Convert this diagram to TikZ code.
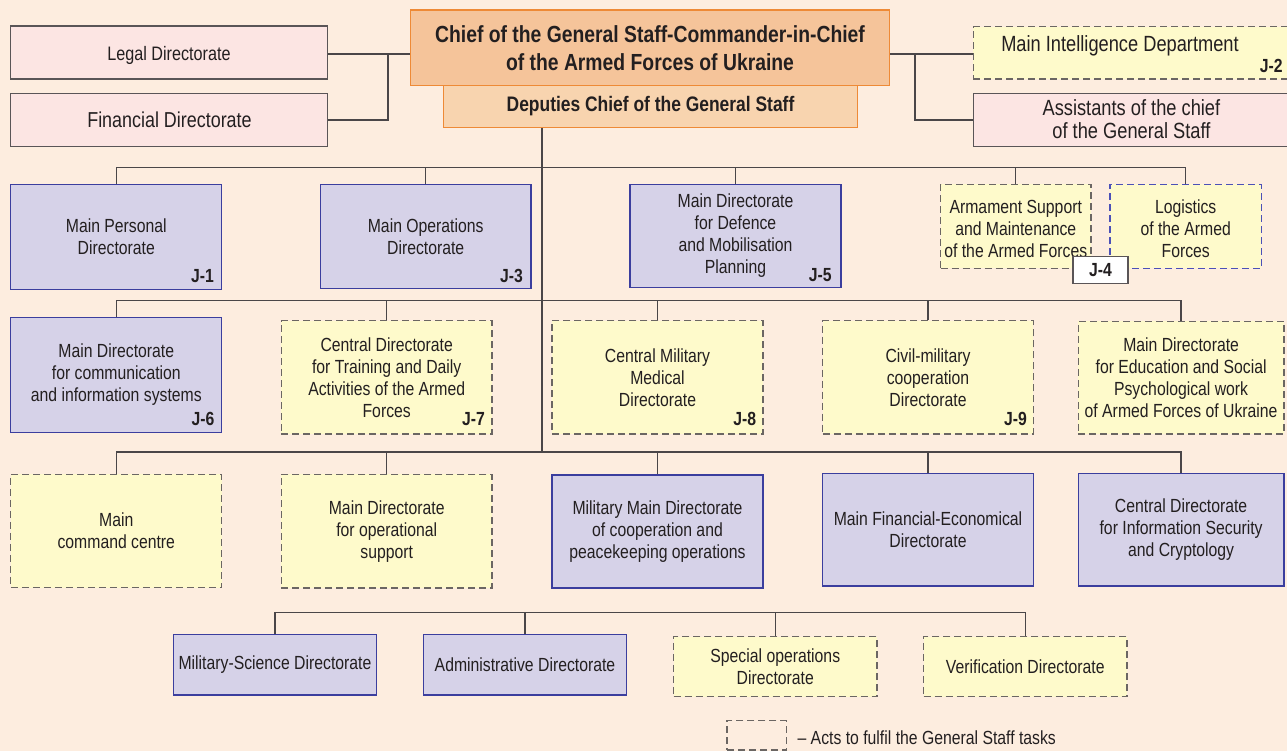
\documentclass[tikz,border=0pt]{standalone}
\usepackage{fontspec}
\setmainfont{Liberation Sans}[FakeStretch=0.83]
\usetikzlibrary{calc}
\definecolor{bgc}{HTML}{FDEDDF}
\definecolor{pinkf}{HTML}{FCE5E3}
\definecolor{grayb}{HTML}{5A5557}
\definecolor{chieff}{HTML}{F5C49A}
\definecolor{chiefb}{HTML}{EE8A36}
\definecolor{depf}{HTML}{F8D4AF}
\definecolor{lavf}{HTML}{D6D2E8}
\definecolor{lavb}{HTML}{3B3E9E}
\definecolor{yelf}{HTML}{FEFACB}
\definecolor{dashb}{HTML}{6B6663}
\definecolor{logb}{HTML}{4B50B8}
\definecolor{linec}{HTML}{4A4648}
\definecolor{txt}{HTML}{231F20}
\tikzset{
  base/.style={rectangle, inner sep=0pt, align=center, text=txt, font=\fontsize{19}{22}\selectfont},
  bigtxt/.style={base, font=\fontsize{22}{22.6}\selectfont},
  pinkbox/.style={base, fill=pinkf, draw=grayb, line width=1.2pt},
  lavbox/.style={base, fill=lavf, draw=lavb, line width=1.2pt},
  yelbox/.style={base, fill=yelf, draw=dashb, line width=1.2pt, dash pattern=on 7pt off 4pt},
  conn/.style={draw=linec, line width=1.4pt},
  jlab/.style={font=\bfseries\fontsize{19}{22}\selectfont, text=txt, inner sep=0pt},
}
\begin{document}
\begin{tikzpicture}[x=1pt,y=-1pt]
\useasboundingbox (0,0) rectangle (1287,751);
\clip (0,0) rectangle (1287,751);
\fill[bgc] (0,0) rectangle (1287,751);

% top
\node[pinkbox, minimum width=317, minimum height=53] (legal) at (169,52.5) {};
\node[base, anchor=base, font=\fontsize{19.5}{22}\selectfont] (legaltxt) at (169,60.7) {Legal Directorate};
\node[pinkbox, minimum width=317, minimum height=53] (fin) at (169,120.2) {};
\node[base, anchor=base, font=\fontsize{21.6}{22}\selectfont] (fintxt) at (169.5,127.3) {Financial Directorate};
\node[base, fill=depf, draw=chiefb, line width=1.2pt, minimum width=414, minimum height=41.6,
      font=\bfseries\fontsize{21}{24}\selectfont] (deputies) at (650.5,106.5) {Deputies Chief of the General Staff};
\node[base, fill=chieff, draw=chiefb, line width=1.2pt, minimum width=479, minimum height=75.7,
      font=\bfseries\fontsize{23.3}{27.7}\selectfont] (chief) at (650,47.9)
      {Chief of the General Staff-Commander-in-Chief\\of the Armed Forces of Ukraine};
\node[yelbox, minimum width=340, minimum height=52.3] (intel) at (1143.4,52.8) {};
\node[bigtxt, anchor=base] (inteltxt) at (1120,51.7) {Main Intelligence Department};
\node[jlab, anchor=base east] (j2) at (1282.8,72.7) {J-2};
\node[pinkbox, minimum width=340, minimum height=53] (assist) at (1143.4,120.2) {};
\node[bigtxt] (assisttxt) at (1131.4,119) {Assistants of the chief\\of the General Staff};

% row 1
\node[lavbox, minimum width=211, minimum height=105] (j1) at (116.3,236.8) {Main Personal\\Directorate};
\node[lavbox, minimum width=210.6, minimum height=104] (j3) at (425.7,236.3) {Main Operations\\Directorate};
\node[lavbox, minimum width=211, minimum height=103] (j5) at (735.5,235.8) {Main Directorate\\for Defence\\and Mobilisation\\Planning};
\node[yelbox, minimum width=150.5, minimum height=84] (arm) at (1015.75,226.3) {};
\node[base] (armtxt) at (1015.75,229) {Armament Support\\and Maintenance\\of the Armed Forces};
\node[yelbox, draw=logb, minimum width=151.4, minimum height=84] (log) at (1185.7,226.3) {};
\node[base] (logtxt) at (1185.7,229) {Logistics\\of the Armed\\Forces};
\node[base, fill=white, draw=grayb, line width=1.2pt, minimum width=55, minimum height=26.6,
      font=\bfseries\fontsize{19}{22}\selectfont] (j4) at (1100.5,270) {J-4};
\node[jlab, anchor=base east] (j1l) at (214,282.7) {J-1};
\node[jlab, anchor=base east] (j3l) at (523,282.7) {J-3};
\node[jlab, anchor=base east] (j5l) at (831.9,282) {J-5};

% row 2
\node[lavbox, minimum width=211, minimum height=115.4] (j6) at (116.3,375) {Main Directorate\\for communication\\and information systems};
\node[yelbox, minimum width=210.6, minimum height=113.3] (j7) at (386.7,377.35) {Central Directorate\\for Training and Daily\\Activities of the Armed\\Forces};
\node[yelbox, minimum width=211, minimum height=113.3] (j8) at (657.5,377.35) {Central Military\\Medical\\Directorate};
\node[yelbox, minimum width=210.4, minimum height=113.3] (j9) at (928,377.35) {Civil-military\\cooperation\\Directorate};
\node[yelbox, minimum width=205.8, minimum height=112.7] (edu) at (1181.1,377.6) {Main Directorate\\for Education and Social\\Psychological work\\of Armed Forces of Ukraine};
\node[jlab, anchor=base east] (j6l) at (214.7,425) {J-6};
\node[jlab, anchor=base east] (j7l) at (485,425) {J-7};
\node[jlab, anchor=base east] (j8l) at (756.4,425) {J-8};
\node[jlab, anchor=base east] (j9l) at (1027,425) {J-9};

% row 3
\node[yelbox, minimum width=211, minimum height=113.4] (cmd) at (116.3,531) {Main\\command centre};
\node[yelbox, minimum width=210.6, minimum height=113.7] (opsup) at (386.7,531.1) {Main Directorate\\for operational\\support};
\node[lavbox, minimum width=211, minimum height=113] (milmain) at (657.5,531.5) {Military Main Directorate\\of cooperation and\\peacekeeping operations};
\node[lavbox, minimum width=210.4, minimum height=112.7] (finecon) at (928,529.7) {Main Financial-Economical\\Directorate};
\node[lavbox, minimum width=205.8, minimum height=112.7] (infosec) at (1181.1,529.7) {Central Directorate\\for Information Security\\and Cryptology};

% row 4
\node[lavbox, minimum width=202.8, minimum height=60.7] (milsci) at (275,664.7) {Military-Science Directorate};
\node[lavbox, minimum width=202.8, minimum height=60.7] (admin) at (525,664.7) {Administrative Directorate};
\node[yelbox, minimum width=203.4, minimum height=60] (specops) at (775.3,666.7) {Special operations\\Directorate};
\node[yelbox, minimum width=203.4, minimum height=60] (verif) at (1025.3,666.7) {Verification Directorate};

% legend
\node[draw=dashb, line width=1.2pt, dash pattern=on 7pt off 4pt, inner sep=0pt,
      minimum width=59.5, minimum height=29.3] (leg) at (756.75,735.35) {};
\node[base, anchor=base west] (legtxt) at (797.4,744) {-- Acts to fulfil the General Staff tasks};

% junction coordinates
\coordinate (lj) at (388,54);
\coordinate (rj) at (914.8,54);
\coordinate (b1) at (541.8,167.7);
\coordinate (b2) at (541.8,300.7);
\coordinate (b3) at (541.8,452);
\coordinate (b4) at (525,612.5);

% connectors
\draw[conn] (legal.east |- lj) -- (lj -| chief.west);
\draw[conn] (fin.east) -| (lj);
\draw[conn] (rj -| chief.east) -- (rj -| intel.west);
\draw[conn] (assist.west) -| (rj);
\draw[conn] (deputies.south -| b1) -- (b3);
\draw[conn] (j1.north) |- (b1) -| (log.north);
\draw[conn] (j3.north) -- (j3.north |- b1);
\draw[conn] (j5.north) -- (j5.north |- b1);
\draw[conn] (arm.north) -- (arm.north |- b1);
\draw[conn] (j6.north) |- (b2) -| (edu.north);
\draw[conn] (j7.north) -- (j7.north |- b2);
\draw[conn] (j8.north) -- (j8.north |- b2);
\draw[conn] (j9.north) -- (j9.north |- b2);
\draw[conn] (cmd.north) |- (b3) -| (infosec.north);
\draw[conn] (opsup.north) -- (opsup.north |- b3);
\draw[conn] (milmain.north) -- (milmain.north |- b3);
\draw[conn] (finecon.north) -- (finecon.north |- b3);
\draw[conn] (milsci.north) |- (b4) -| (verif.north);
\draw[conn] (admin.north) -- (admin.north |- b4);
\draw[conn] (specops.north) -- (specops.north |- b4);
\end{tikzpicture}
\end{document}
